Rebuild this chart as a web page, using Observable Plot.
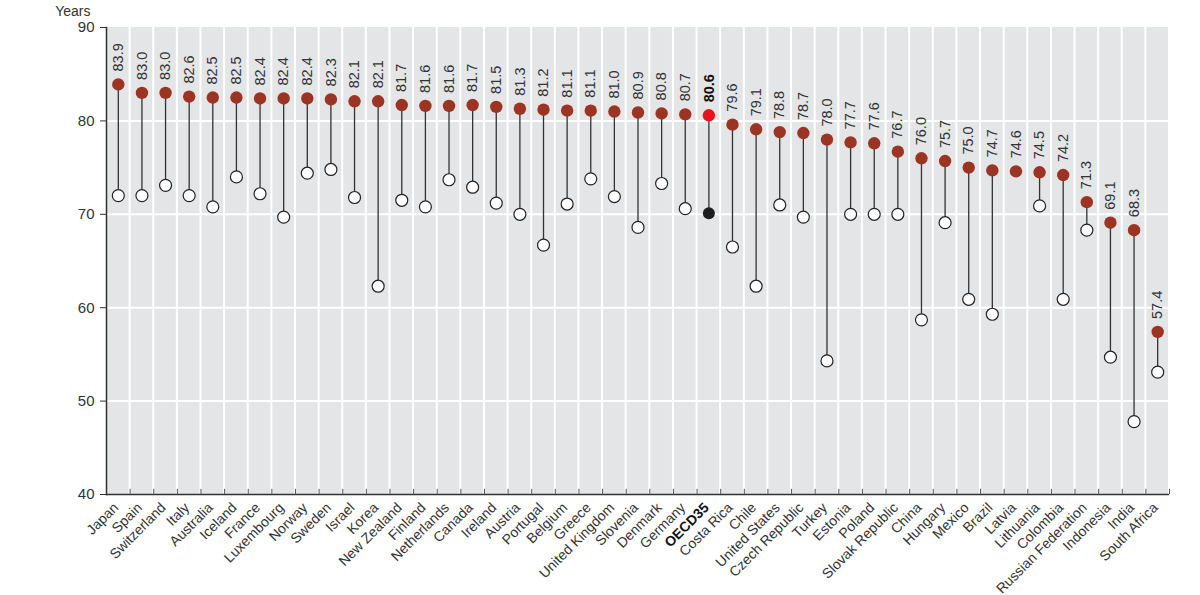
<!DOCTYPE html>
<html>
<head>
<meta charset="utf-8">
<script src="https://cdn.jsdelivr.net/npm/d3@7"></script>
<script src="https://cdn.jsdelivr.net/npm/@observablehq/plot@0.6"></script>
<style>
  html, body { margin: 0; padding: 0; background: #fff; }
  #chart svg { display: block; }
</style>
</head>
<body>
<div id="chart"></div>
<script>
const countries = ["Japan","Spain","Switzerland","Italy","Australia","Iceland","France","Luxembourg","Norway","Sweden","Israel","Korea","New Zealand","Finland","Netherlands","Canada","Ireland","Austria","Portugal","Belgium","Greece","United Kingdom","Slovenia","Denmark","Germany","OECD35","Costa Rica","Chile","United States","Czech Republic","Turkey","Estonia","Poland","Slovak Republic","China","Hungary","Mexico","Brazil","Latvia","Lithuania","Colombia","Russian Federation","Indonesia","India","South Africa"];
const values2015 = [83.9,83.0,83.0,82.6,82.5,82.5,82.4,82.4,82.4,82.3,82.1,82.1,81.7,81.6,81.6,81.7,81.5,81.3,81.2,81.1,81.1,81.0,80.9,80.8,80.7,80.6,79.6,79.1,78.8,78.7,78.0,77.7,77.6,76.7,76.0,75.7,75.0,74.7,74.6,74.5,74.2,71.3,69.1,68.3,57.4];
const values1970 = [72.0,72.0,73.1,72.0,70.8,74.0,72.2,69.7,74.4,74.8,71.8,62.3,71.5,70.8,73.7,72.9,71.2,70.0,66.7,71.1,73.8,71.9,68.6,73.3,70.6,70.1,66.5,62.3,71.0,69.7,54.3,70.0,70.0,70.0,58.7,69.1,60.9,59.3,null,70.9,60.9,68.3,54.7,47.8,53.1];
const yTicks = [40,50,60,70,80,90];
const highlight = "OECD35";

const data = countries.map((c, i) => ({country: c, v2015: values2015[i], v1970: values1970[i]}));
const W = 1200, H = 595, mL = 106, mR = 31, mT = 27, mB = 101;
const step = (W - mL - mR) / countries.length;
const isH = d => d.country === highlight;
const notH = d => d.country !== highlight;
const font = "'Liberation Sans', Arial, sans-serif";

const chart = Plot.plot({
  width: W, height: H,
  marginLeft: mL, marginRight: mR, marginTop: mT, marginBottom: mB,
  style: {fontFamily: font, fontSize: "14px", color: "#333", background: "#fff"},
  x: {type: "band", domain: countries, padding: 0, round: false, axis: null},
  y: {domain: [40, 90], axis: null},
  marks: [
    Plot.barY(countries, {x: d => d, y1: 40, y2: 90, fill: "#e4e5e7", insetLeft: 1, insetRight: 1}),
    Plot.ruleY([50, 60, 70, 80], {stroke: "#fff", strokeWidth: 2}),
    Plot.axisY({ticks: yTicks, tickSize: 6, tickPadding: 6, label: null, fontSize: 15, stroke: "#333", color: "#333"}),
    Plot.frame({anchor: "left", stroke: "#333", strokeWidth: 1.5}),
    Plot.ruleY([40], {stroke: "#333", strokeWidth: 1.5}),
    Plot.ruleX(countries, {x: d => d, y1: 40, y2: 40.55, dx: step / 2, stroke: "#555"}),
    Plot.ruleX(data.filter(d => d.v1970 != null), {x: "country", y1: "v1970", y2: "v2015", stroke: "#333", strokeWidth: 1.3}),
    Plot.dot(data.filter(d => d.v1970 != null && notH(d)), {x: "country", y: "v1970", r: 6, fill: "#fff", stroke: "#222", strokeWidth: 1.2}),
    Plot.dot(data.filter(isH), {x: "country", y: "v1970", r: 6, fill: "#1e1e1e"}),
    Plot.dot(data.filter(notH), {x: "country", y: "v2015", r: 6.2, fill: "#9c3424"}),
    Plot.dot(data.filter(isH), {x: "country", y: "v2015", r: 6.2, fill: "#e8141c"}),
    Plot.text(data.filter(notH), {x: "country", y: "v2015", text: d => d.v2015.toFixed(1), rotate: -90, textAnchor: "start", dy: -13, fontSize: 14.5, fill: "#333"}),
    Plot.text(data.filter(isH), {x: "country", y: "v2015", text: d => d.v2015.toFixed(1), rotate: -90, textAnchor: "start", dy: -13, fontSize: 14.5, fontWeight: "bold", fill: "#111"}),
    Plot.text(countries.filter(c => c !== highlight), {x: d => d, frameAnchor: "bottom", text: d => d, rotate: -45, textAnchor: "end", dx: 1, dy: 14, fontSize: 14, fill: "#333"}),
    Plot.text([highlight], {x: d => d, frameAnchor: "bottom", text: d => d, rotate: -45, textAnchor: "end", dx: 1, dy: 14, fontSize: 14, fontWeight: "bold", fill: "#111"}),
    Plot.text(["Years"], {frameAnchor: "top-left", text: d => d, textAnchor: "end", dx: -16, dy: -21, fontSize: 14, fill: "#333"})
  ]
});
document.getElementById("chart").appendChild(chart);
</script>
</body>
</html>
